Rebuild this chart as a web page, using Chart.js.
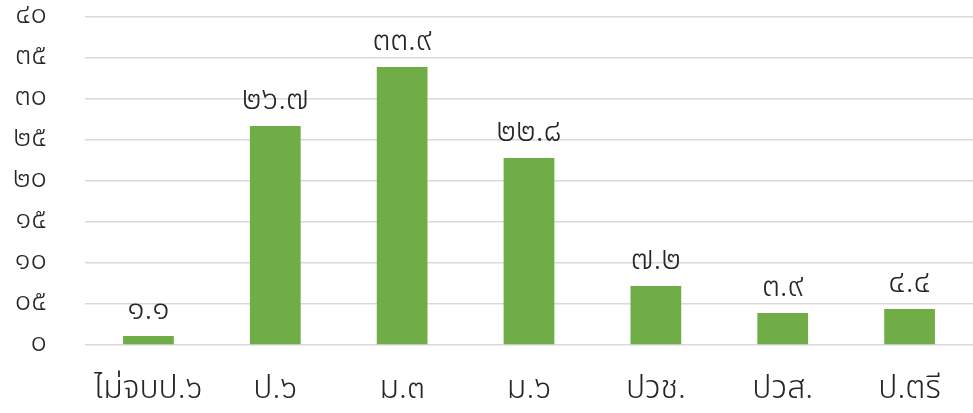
<!DOCTYPE html>
<html>
<head>
<meta charset="utf-8">
<script src="https://cdn.jsdelivr.net/npm/chart.js@4"></script>
<style>
  html, body { margin: 0; padding: 0; background: #fff; }
  #wrap { width: 973px; height: 413px; }
</style>
</head>
<body>
<div id="wrap"><canvas id="eduChart"></canvas></div>
<script>
const categories = ["ไม่จบป.๖", "ป.๖", "ม.๓", "ม.๖", "ปวช.", "ปวส.", "ป.ตรี"];
const values = [1.1, 26.7, 33.9, 22.8, 7.2, 3.9, 4.4];
const valueLabels = ["๑.๑", "๒๖.๗", "๓๓.๙", "๒๒.๘", "๗.๒", "๓.๙", "๔.๔"];
const yTickLabels = ["๐", "๐๕", "๑๐", "๑๕", "๒๐", "๒๕", "๓๐", "๓๕", "๔๐"];

const thaiFont = "'Noto Sans Thai', 'Noto Sans', Tahoma, sans-serif";

// draws value labels above each bar
const barLabels = {
    id: "barLabels",
    afterDatasetsDraw(chart) {
        const c = chart.ctx;
        const meta = chart.getDatasetMeta(0);
        c.save();
        c.fillStyle = "#262626";
        c.font = "300 32px " + thaiFont;
        c.textAlign = "center";
        c.textBaseline = "alphabetic";
        meta.data.forEach((bar, i) => {
            c.fillText(valueLabels[i], bar.x, bar.y - 17);
        });
        c.restore();
    },
};

const ctx = document.getElementById("eduChart").getContext("2d");
new Chart(ctx, {
    type: "bar",
    data: {
        labels: categories,
        datasets: [
            {
                data: values,
                backgroundColor: "#70ad47",
                barPercentage: 0.8,
                categoryPercentage: 0.5,
            },
        ],
    },
    options: {
        responsive: true,
        maintainAspectRatio: false,
        animation: false,
        layout: {
            padding: 0,
        },
        scales: {
            x: {
                grid: { display: false },
                border: { display: false },
                afterFit: (s) => { s.height = 68; s.paddingRight = 0; },
                ticks: {
                    color: "#262626",
                    font: { family: thaiFont, size: 32, weight: 300 },
                    padding: 19,
                },
            },
            y: {
                min: 0,
                max: 40,
                border: { display: false },
                grid: { color: "#d9d9d9", lineWidth: 1.5, drawTicks: false },
                afterFit: (s) => { s.width = 85; s.paddingTop = 17; },
                ticks: {
                    stepSize: 5,
                    autoSkip: false,
                    color: "#262626",
                    font: { family: thaiFont, size: 29, weight: 300 },
                    padding: 38,
                    callback: (v, i) => yTickLabels[i],
                },
            },
        },
        plugins: {
            legend: { display: false },
            tooltip: { enabled: false },
        },
    },
    plugins: [barLabels],
});
</script>
</body>
</html>
